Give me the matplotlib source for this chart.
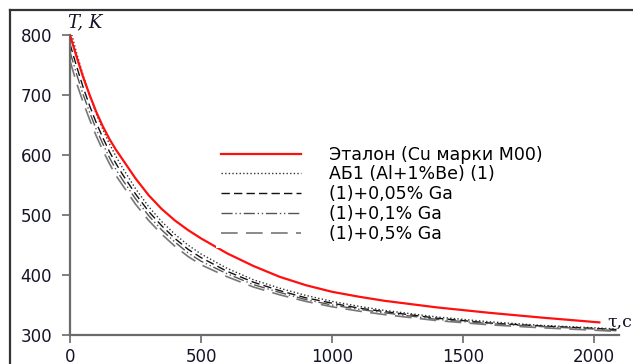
import matplotlib
matplotlib.use("Agg")
import matplotlib.pyplot as plt
from matplotlib.lines import Line2D

# Cooling curves T(τ) for the reference sample (copper) and the alloys
t_ref = [0, 25, 50, 75, 100, 125, 150, 175, 200, 250, 300, 350, 400, 450, 500,
         600, 700, 800, 900, 1000, 1100, 1200, 1400, 1600, 1800, 2020]
T_ref = [800, 764, 730, 700, 672, 648, 627, 609, 593, 561, 533, 510, 491, 475, 461,
         436, 415, 397, 383, 372, 364, 357, 346, 337, 329, 321]

t_alloy = [0, 25, 50, 75, 100, 125, 150, 175, 200, 250, 300, 350, 400, 450, 500,
           600, 700, 800, 900, 1000, 1100, 1200, 1400, 1600, 1800, 2000, 2085]
T_ab1 = [812, 770, 733, 699, 669, 643, 619, 598, 579, 544, 514, 489, 468, 450, 435,
         411, 392, 378, 366, 356, 348, 341, 330, 322, 316, 312, 310]
T_ga005 = [785, 748, 713, 682, 654, 629, 606, 586, 568, 535, 506, 482, 461, 443, 429,
           406, 388, 374, 362, 353, 345, 339, 328, 320, 315, 311, 309]
T_ga01 = [772, 735, 701, 671, 643, 619, 596, 576, 559, 527, 499, 475, 455, 437, 423,
          402, 384, 371, 359, 350, 343, 337, 326, 319, 314, 310, 307]
T_ga05 = [757, 720, 688, 659, 632, 608, 586, 566, 550, 518, 491, 468, 448, 431, 417,
          397, 380, 367, 356, 347, 340, 334, 324, 317, 312, 308, 306]

labels = ["Эталон (Cu марки М00)", "АБ1 (Al+1%Be) (1)", "(1)+0,05% Ga",
          "(1)+0,1% Ga", "(1)+0,5% Ga"]
x_ticks = [0, 500, 1000, 1500, 2000]
y_ticks = [300, 400, 500, 600, 700, 800]

W, H = 633, 364
fig = plt.figure(figsize=(W / 100, H / 100), dpi=100)
fig.patch.set_facecolor("white")

left, right, bottom, top = 70, 619, 335, 35
ax = fig.add_axes([left / W, 1 - bottom / H, (right - left) / W, (bottom - top) / H])
ax.set_facecolor("white")

ax.plot(t_ref, T_ref, color="#ff1010", lw=1.6, label=labels[0], zorder=3)
ax.plot(t_alloy, T_ab1, color="#333333", lw=1.0, ls=(0, (1, 1.6)), label=labels[1])
ax.plot(t_alloy, T_ga005, color="#111111", lw=1.0, ls=(0, (6, 3)), label=labels[2])
ax.plot(t_alloy, T_ga01, color="#555555", lw=1.0,
        ls=(0, (8, 2, 1, 2, 1, 2)), label=labels[3])
ax.plot(t_alloy, T_ga05, color="#777777", lw=1.2, ls=(0, (10, 5)), label=labels[4])

ax.set_xlim(0, 2095)
ax.set_ylim(300, 800)
ax.set_xticks(x_ticks)
ax.set_yticks(y_ticks)

for s in ("top", "right"):
    ax.spines[s].set_visible(False)
for s in ("left", "bottom"):
    ax.spines[s].set_color("#6a6a6a")
    ax.spines[s].set_linewidth(1.6)
ax.tick_params(direction="out", length=6, width=1.2, color="#6a6a6a",
               labelsize=12, labelcolor="#141428")
ax.tick_params(axis="y", pad=7)
ax.tick_params(axis="x", pad=3)
for lab in ax.get_xticklabels() + ax.get_yticklabels():
    lab.set_fontfamily("DejaVu Sans")

leg = ax.legend(loc="upper left", bbox_to_anchor=((216 - left) / (right - left),
                (bottom - 140.5) / (bottom - top)),
                frameon=True, facecolor="white", edgecolor="none", framealpha=1,
                fancybox=False, fontsize=12.5, handlelength=4.6,
                handletextpad=1.6, labelspacing=0.1, borderpad=0.3,
                borderaxespad=0)
leg.set_zorder(5)
for txt in leg.get_texts():
    txt.set_color("#000000")

fig.text(68 / W, 1 - 22 / H, "T, K", fontsize=13, style="italic",
         family="DejaVu Serif", color="#141428", va="center", ha="left")
fig.text(607 / W, 1 - 322 / H, "τ,c", fontsize=12.5, family="DejaVu Serif",
         color="#141428", va="center", ha="left")

# frame lines along the left and top of the figure
fig.add_artist(Line2D([10 / W, 10 / W], [0, 1 - 10 / H], transform=fig.transFigure,
                      color="#333333", lw=1.6))
fig.add_artist(Line2D([10 / W, 1], [1 - 10 / H, 1 - 10 / H], transform=fig.transFigure,
                      color="#333333", lw=1.6))

fig.savefig("out.png", dpi=100, facecolor="white")
